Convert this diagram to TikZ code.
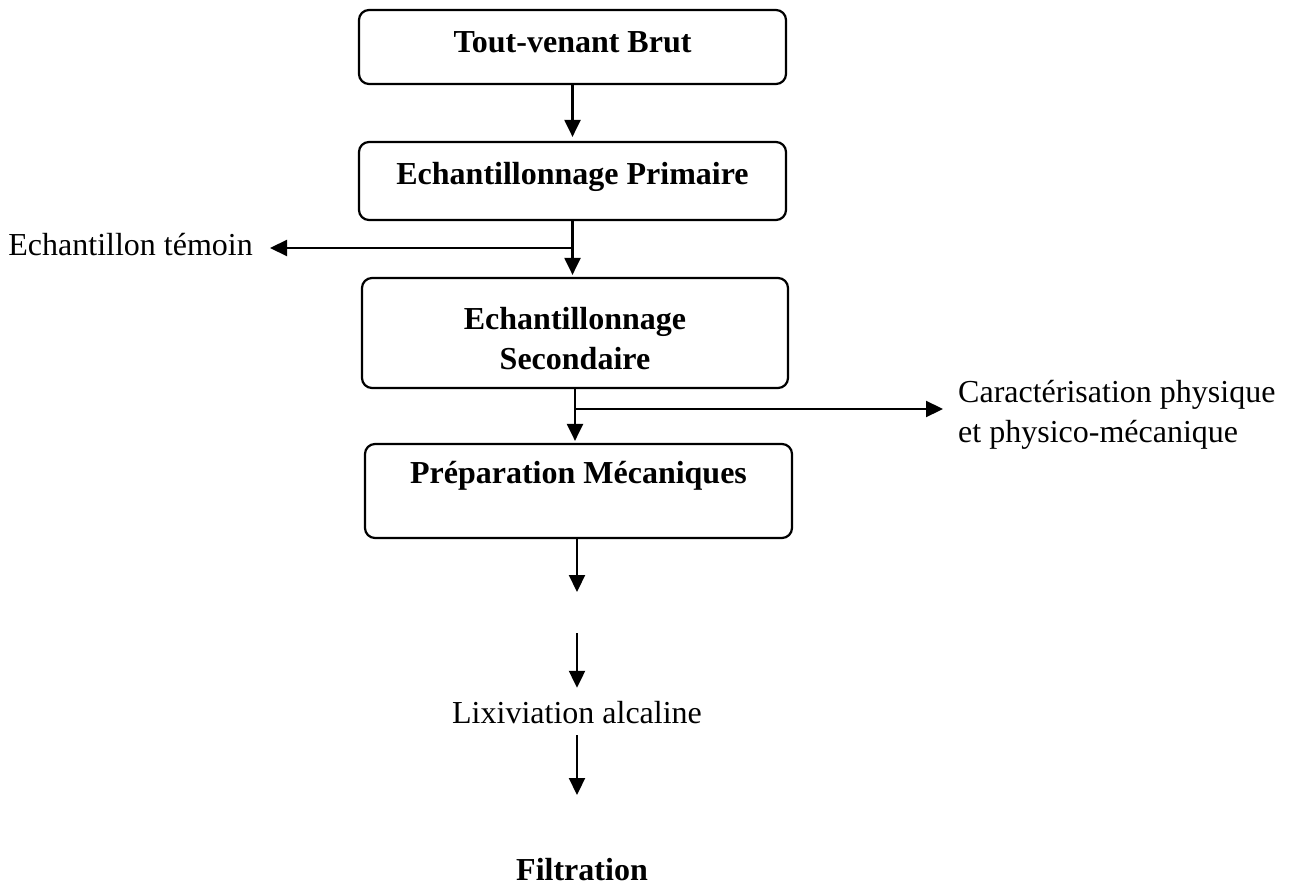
\documentclass[tikz,border=0pt]{standalone}
\usepackage{fontspec}
\setmainfont{Liberation Serif}
\usetikzlibrary{positioning,arrows.meta}

\tikzset{
  box/.style={draw, line width=2.2pt, rounded corners=10pt, minimum width=427pt, inner sep=0pt,
    font=\fontsize{32}{40}\selectfont\bfseries},
  txt/.style={inner sep=0pt, font=\fontsize{32}{40}\selectfont},
  flow/.style={line width=2.2pt, -{Triangle[length=17pt,width=16pt]}},
}

\begin{document}
\begin{tikzpicture}[x=1pt,y=-1pt]
\useasboundingbox (0,0) rectangle (1295,885);
% main column
\node[box, minimum height=74pt, text height=23pt, text depth=11pt] (brut) at (572.5,47) {Tout-venant Brut};
\node[box, minimum height=78pt, text height=23pt, text depth=15pt] (prim) at (572.5,181) {Echantillonnage Primaire};
\node[box, minimum height=110pt, minimum width=426pt, align=center, text height=73pt, text depth=0pt] (sec) at (575,333) {Echantillonnage\\Secondaire};
\node[box, minimum height=94pt, text height=23pt, text depth=39pt] (prep) at (578.5,491) {Préparation Mécaniques};

% side outputs
\node[txt, inner xsep=17pt, anchor=base east] (temoin) at (270,255) {Echantillon témoin};
\node[txt, inner xsep=15pt, anchor=west, align=left] (carac) at (943,415) {Caractérisation physique\\et physico-mécanique};
\coordinate (j1) at (573,248);
\coordinate (j2) at (575,409);

% lower part
\coordinate (e1) at (577,592);
\coordinate (s2) at (577,633);
\node[txt, inner ysep=12pt, text height=23pt, text depth=0pt, anchor=base] (lix) at (577,723) {Lixiviation alcaline};
\coordinate (e3) at (577,795);
\node[txt, font=\fontsize{32}{40}\selectfont\bfseries, anchor=base] (filt) at (582,880) {Filtration};

% arrows
\draw[flow, shorten >=4pt] (brut.south) -- (prim.north);
\draw[flow, shorten >=2pt] (prim.south) -- (prim.south |- sec.north);
\draw[flow] (j1) -- (j1 -| temoin.east);
\draw[flow, shorten >=2pt] (sec.south) -- (sec.south |- prep.north);
\draw[flow] (j2) -- (j2 -| carac.west);
\draw[flow] (prep.south -| e1) -- (e1);
\draw[flow] (s2) -- (lix.north);
\draw[flow] (lix.south) -- (e3);
\end{tikzpicture}
\end{document}
